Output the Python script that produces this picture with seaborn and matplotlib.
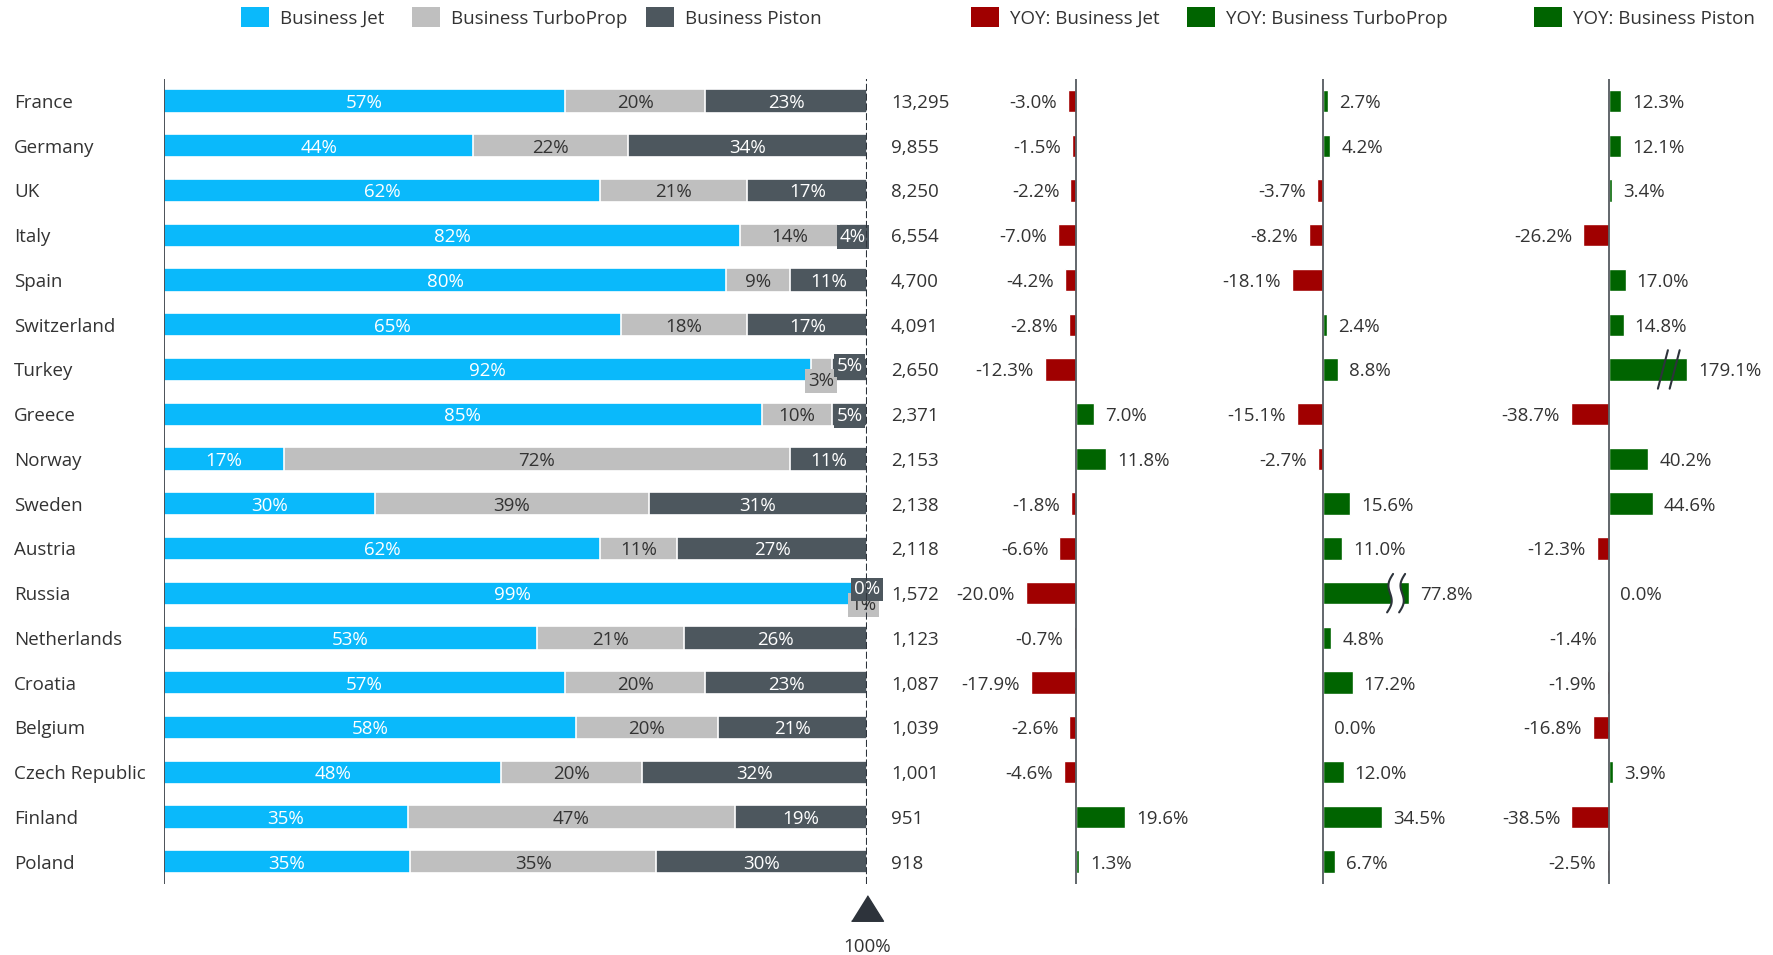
import matplotlib
import matplotlib.pyplot as plt
import matplotlib.transforms as mtransforms
import numpy as np
import pandas as pd
import seaborn as sns
from matplotlib.patches import Patch, Polygon

matplotlib.use('Agg')

countries = ['France', 'Germany', 'UK', 'Italy', 'Spain', 'Switzerland', 'Turkey',
             'Greece', 'Norway', 'Sweden', 'Austria', 'Russia', 'Netherlands',
             'Croatia', 'Belgium', 'Czech Republic', 'Finland', 'Poland']
jet_share = [57, 44, 62, 82, 80, 65, 92, 85, 17, 30, 62, 99, 53, 57, 58, 48, 35, 35]
turbo_share = [20, 22, 21, 14, 9, 18, 3, 10, 72, 39, 11, 1, 21, 20, 20, 20, 47, 35]
piston_share = [23, 34, 17, 4, 11, 17, 5, 5, 11, 31, 27, 0, 26, 23, 21, 32, 19, 30]
totals = [13295, 9855, 8250, 6554, 4700, 4091, 2650, 2371, 2153, 2138, 2118, 1572,
          1123, 1087, 1039, 1001, 951, 918]
yoy_jet = [-3.0, -1.5, -2.2, -7.0, -4.2, -2.8, -12.3, 7.0, 11.8, -1.8, -6.6, -20.0,
           -0.7, -17.9, -2.6, -4.6, 19.6, 1.3]
yoy_turbo = [2.7, 4.2, -3.7, -8.2, -18.1, 2.4, 8.8, -15.1, -2.7, 15.6, 11.0, 77.8,
             4.8, 17.2, 0.0, 12.0, 34.5, 6.7]
yoy_piston = [12.3, 12.1, 3.4, -26.2, 17.0, 14.8, 179.1, -38.7, 40.2, 44.6, -12.3, 0.0,
              -1.4, -1.9, -16.8, 3.9, -38.5, -2.5]

W, H = 1774, 955
C_JET = '#0ab9fb'
C_TURBO = '#bfbfbf'
C_PISTON = '#4d575e'
C_NEG = '#a00000'
C_POS = '#006400'
C_TEXT = '#333333'
C_LINE = '#2d333b'
FS = 13.5

sns.set_theme(style='white')
plt.rcParams['font.family'] = ['Open Sans', 'DejaVu Sans']
plt.rcParams['text.color'] = C_TEXT

fig = plt.figure(figsize=(W / 100, H / 100), dpi=100)


def px_axes(x0, x1):
    ax = fig.add_axes([x0 / W, 71 / H, (x1 - x0) / W, 805.4 / H])
    return ax


# ---- stacked share panel ----
df = pd.DataFrame({'country': countries, 'jet': jet_share, 'turbo': turbo_share,
                   'piston': piston_share, 'total': totals})
s = df[['jet', 'turbo', 'piston']].sum(axis=1)
df['jet_n'] = df['jet'] / s * 100
df['turbo_n'] = df['turbo'] / s * 100
df['piston_n'] = df['piston'] / s * 100
df['cum2'] = df['jet_n'] + df['turbo_n']
df['cum3'] = df['cum2'] + df['piston_n']

ax = px_axes(164, 867)
for col, c in [('cum3', C_PISTON), ('cum2', C_TURBO), ('jet_n', C_JET)]:
    sns.barplot(data=df, x=col, y='country', order=countries, color=c, saturation=1,
                width=0.52, edgecolor='white', linewidth=1.2, errorbar=None, ax=ax)
ax.set_xlim(0, 100)
ax.set_ylim(17.5, -0.5)
ax.set_axis_off()
ax.axvline(0, color=C_LINE, lw=1.2)
ax.axvline(100, color=C_LINE, lw=1.5, ls=(0, (3.4, 1.3)), zorder=8)

for i, r in df.iterrows():
    segs = [(r.jet, 0, r.jet_n, C_JET, 'white'),
            (r.turbo, r.jet_n, r.turbo_n, C_TURBO, C_TEXT),
            (r.piston, r.cum2, r.piston_n, C_PISTON, 'white')]
    both_small = r.turbo < 6 and r.piston < 6
    for k, (lab, left, w, fc, tc) in enumerate(segs):
        y = i
        box = None
        if lab < 6:
            box = dict(boxstyle='square,pad=0.15', fc=fc, ec='none')
            if both_small:
                y += 0.22 if k == 1 else -0.13
        ax.text(left + w / 2, y, f'{lab}%', ha='center', va='center_baseline',
                color=tc, fontsize=FS, bbox=box, zorder=5 + k)
    ax.text(103.4, i, f'{r.total:,}', ha='left', va='center_baseline', fontsize=FS)

trans = mtransforms.blended_transform_factory(fig.transFigure, ax.transData)
for i, name in enumerate(countries):
    ax.text(14 / W, i, name, transform=trans, ha='left', va='center_baseline', fontsize=FS)

tri = [(-1, -0.8), (1, -0.8), (0, 0.8)]
ax.plot([100], [18.03], marker=tri, ms=23, color=C_LINE, ls='none', clip_on=False)
ax.text(100, 18.86, '100%', ha='center', va='center_baseline', fontsize=FS)

# ---- YOY panels ----
panels = [
    (yoy_jet, 1076, 2.52, 950, 1230, None),
    (yoy_turbo, 1323, 1.72, 1235, 1530, dict(cap=50, marks=(39, 46), slant=3, wave=3, gap=True)),
    (yoy_piston, 1609, 0.98, 1535, 1770, dict(cap=80, marks=(55, 67), slant=5, wave=0, gap=False)),
]
for vals, zero, scale, x0, x1, brk in panels:
    pax = px_axes(x0, x1)
    vals = np.array(vals)
    shown = vals if brk is None else np.minimum(vals, brk['cap'])
    sign = ['neg' if v < 0 else 'pos' for v in vals]
    sns.barplot(x=shown, y=countries, order=countries, hue=sign, hue_order=['neg', 'pos'],
                palette={'neg': C_NEG, 'pos': C_POS}, dodge=False, legend=False,
                saturation=1, width=0.5, errorbar=None, ax=pax)
    pax.set_xlim((x0 - zero) / scale, (x1 - zero) / scale)
    pax.set_ylim(17.5, -0.5)
    pax.set_axis_off()
    pax.axvline(0, color='#555b60', lw=1.3, zorder=4)
    for i, (v, e) in enumerate(zip(vals, shown)):
        off = -8 if v < 0 else 8
        pax.annotate(f'{v:.1f}%', xy=(e, i), xytext=(off, 0), textcoords='offset points',
                     ha='right' if v < 0 else 'left', va='center_baseline', fontsize=FS)
        if brk is not None and v > brk['cap']:
            t = np.linspace(0, 1, 25)
            ys = i - 0.43 + 0.86 * t
            d = brk['slant'] / scale
            a = brk['wave'] / scale
            curves = [m + d * (1 - 2 * t) - a * np.sin(2 * np.pi * t) for m in brk['marks']]
            if brk['gap']:
                pts = list(zip(curves[0], ys)) + list(zip(curves[1][::-1], ys[::-1]))
                pax.add_patch(Polygon(pts, closed=True, fc='white', ec='none', zorder=5))
            for xs in curves:
                pax.plot(xs, ys, color=C_LINE, lw=1.5, zorder=6, clip_on=False)


# ---- legends (one entry each, placed by the left edge of its swatch) ----
def add_legend(x_px, label, color):
    fig.legend([Patch(fc=color, ec='none')], [label], loc='center left',
               bbox_to_anchor=(x_px / W, 1 - 17.5 / H), frameon=False, fontsize=FS,
               handlelength=1.49, handleheight=1.26, handletextpad=0.59,
               borderpad=0, borderaxespad=0, labelcolor=C_TEXT)


for x_px, label, color in [(241, 'Business Jet', C_JET),
                           (412, 'Business TurboProp', C_TURBO),
                           (646, 'Business Piston', C_PISTON),
                           (971, 'YOY: Business Jet', C_NEG),
                           (1187, 'YOY: Business TurboProp', C_POS),
                           (1534, 'YOY: Business Piston', C_POS)]:
    add_legend(x_px, label, color)

fig.savefig('out.png', dpi=100)
